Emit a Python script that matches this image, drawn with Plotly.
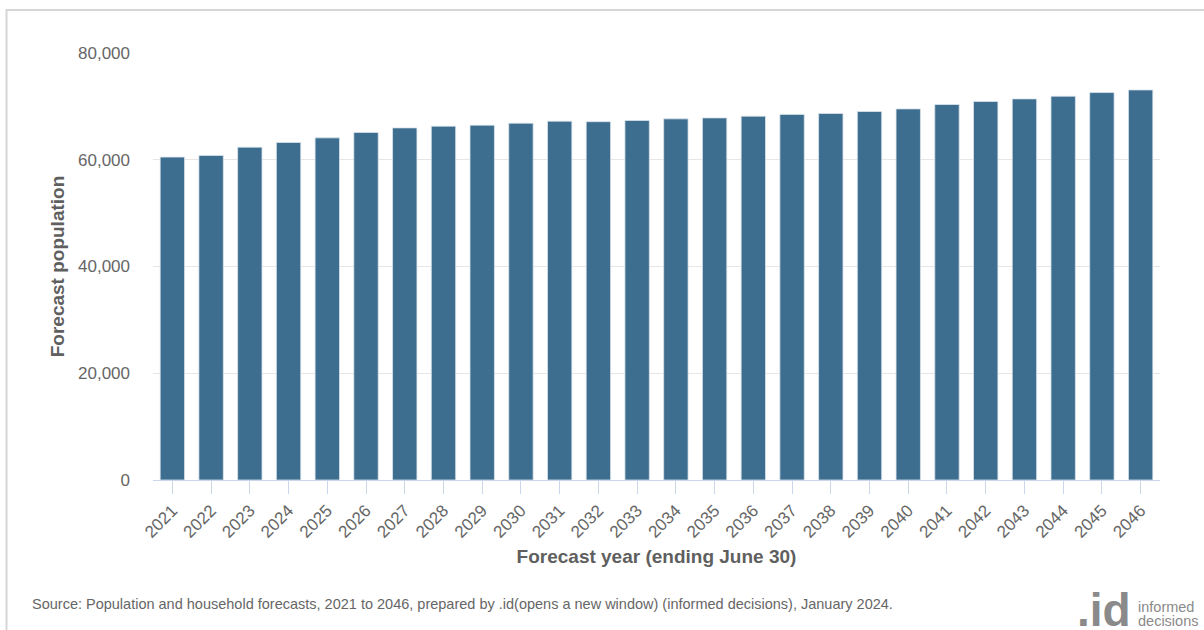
import plotly.graph_objects as go

# Forecast population by year (ending June 30)
years = [str(y) for y in range(2021, 2047)]
population = [
    60500, 60810, 62360, 63240, 64100, 65110, 65970, 66290, 66480, 66850,
    67230, 67130, 67360, 67660, 67840, 68160, 68500, 68670, 69040, 69530,
    70350, 70910, 71400, 71900, 72590, 73080,
]
y_ticks = [0, 20000, 40000, 60000, 80000]
y_tick_text = ["0", "20,000", "40,000", "60,000", "80,000"]

FONT = "Liberation Sans, Arial, Helvetica, sans-serif"
TEXT = "#666666"
BAR = "#3d6e8f"
LOGO = "#8a8a8a"

W, H = 1204, 630
L, R, T, B = 153, 44, 53, 149.5
pw, ph = W - L - R, H - T - B


def px(x):
    return (x - L) / pw


def py(y):
    return (H - B - y) / ph


fig = go.Figure(
    go.Bar(
        x=years,
        y=population,
        marker=dict(color=BAR, line=dict(color="#dce5ec", width=0.8)),
        hovertemplate="%{x}: %{y:,}<extra></extra>",
    )
)

fig.update_layout(
    width=W,
    height=H,
    margin=dict(l=L, r=R, t=T, b=B, autoexpand=False),
    paper_bgcolor="white",
    plot_bgcolor="white",
    bargap=0.37,
    showlegend=False,
    font=dict(family=FONT, color=TEXT),
    xaxis=dict(
        type="category",
        tickangle=-45,
        tickfont=dict(size=17, color=TEXT),
        ticks="outside",
        ticklen=13,
        tickcolor="#ccd6eb",
        showline=True,
        linecolor="#ccd6eb",
        linewidth=1,
        showgrid=False,
        title=dict(
            text="<b>Forecast year (ending June 30)</b>",
            font=dict(size=19, color="#5f5f5f"),
            standoff=9,
        ),
    ),
    yaxis=dict(
        range=[0, 80000],
        tickvals=y_ticks,
        ticktext=y_tick_text,
        tickfont=dict(size=17, color=TEXT),
        showgrid=True,
        gridcolor="#e6e6e6",
        gridwidth=1,
        zeroline=False,
        ticks="",
        ticklabelstandoff=22,
        title=dict(
            text="<b>Forecast population</b>",
            font=dict(size=19, color="#5f5f5f"),
            standoff=8,
        ),
    ),
)

# Outer frame around the chart panel
fig.add_shape(
    type="rect",
    xref="paper",
    yref="paper",
    x0=px(6.5),
    x1=px(1215),
    y0=py(645),
    y1=py(10),
    line=dict(color="#d6d6d6", width=2),
    fillcolor="rgba(0,0,0,0)",
    layer="below",
)

# Source note
fig.add_annotation(
    xref="paper",
    yref="paper",
    x=px(30),
    y=py(605),
    xanchor="left",
    yanchor="middle",
    showarrow=False,
    text="Source: Population and household forecasts, 2021 to 2046, prepared by .id(opens a new window) (informed decisions), January 2024.",
    font=dict(size=14.5, color=TEXT, family=FONT),
)

# .id informed decisions logo
fig.add_annotation(
    xref="paper",
    yref="paper",
    x=px(1133),
    y=py(611),
    xanchor="right",
    yanchor="middle",
    showarrow=False,
    text="<b>.id</b>",
    font=dict(size=46, color=LOGO, family=FONT),
)
for label, yc in (("informed", 608), ("decisions", 622)):
    fig.add_annotation(
        xref="paper",
        yref="paper",
        x=px(1136),
        y=py(yc),
        xanchor="left",
        yanchor="middle",
        showarrow=False,
        text=label,
        font=dict(size=14.5, color=LOGO, family="Liberation Sans Narrow, Arial Narrow, sans-serif"),
    )

fig.write_html("out.html")
